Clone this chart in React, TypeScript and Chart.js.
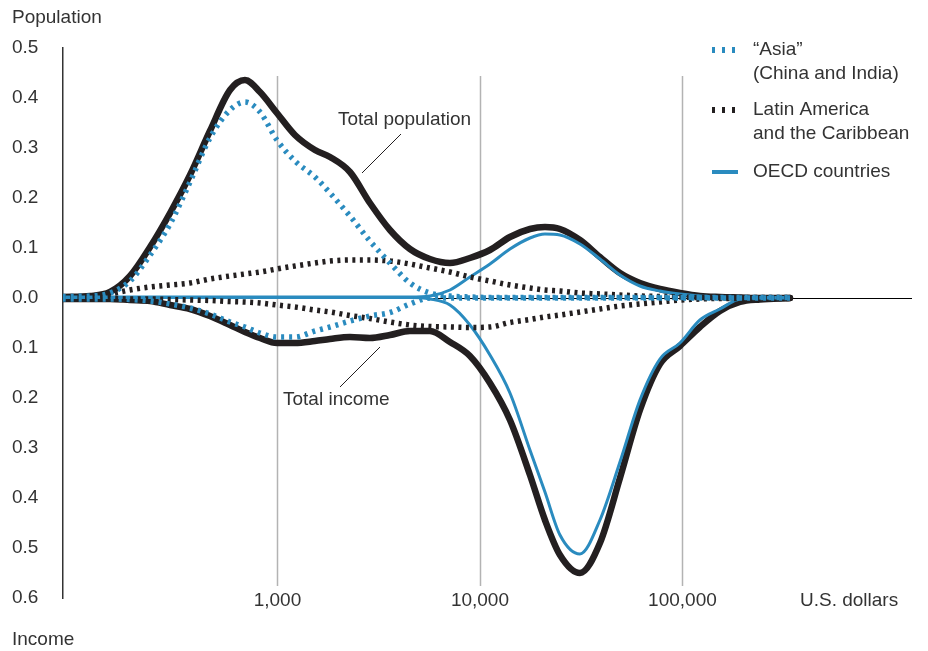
import React, { useEffect, useRef } from "react";
import { Chart, registerables } from "chart.js";

Chart.register(...registerables);

// Income levels (U.S. dollars, log scale)
const incomeUSD = [
  87, 119, 149, 187, 235, 295, 370, 464, 583, 691, 820, 994, 1220, 1532, 1817,
  2281, 2862, 3594, 4511, 5663, 7110, 8925, 11205, 14065, 17657, 20941, 24843,
  31180, 39140, 49130, 61680, 77430, 97200, 122000, 153200, 192300, 241400, 339500,
];

// Population densities (upper half)
const totalPopulation = [
  0.002, 0.004, 0.012, 0.044, 0.102, 0.17, 0.246, 0.334, 0.416, 0.436, 0.412, 0.37,
  0.326, 0.296, 0.282, 0.252, 0.19, 0.136, 0.098, 0.078, 0.07, 0.08, 0.096, 0.122,
  0.138, 0.142, 0.138, 0.116, 0.082, 0.05, 0.03, 0.018, 0.01, 0.004, 0.002, 0.001, 0, 0,
];
const asiaPopulation = [
  0.003, 0.004, 0.01, 0.034, 0.086, 0.148, 0.232, 0.32, 0.376, 0.392, 0.372, 0.316,
  0.274, 0.242, 0.21, 0.164, 0.114, 0.07, 0.03, 0.01, 0.004, 0.002, 0.001, 0.001,
  0.001, 0.001, 0.001, 0.001, 0.001, 0.001, 0.001, 0.001, 0.001, 0.001, 0.001, 0.001, 0.001, 0.001,
];
const latamPopulation = [
  0.001, 0.002, 0.008, 0.016, 0.022, 0.026, 0.03, 0.038, 0.044, 0.048, 0.052, 0.058,
  0.064, 0.07, 0.074, 0.076, 0.076, 0.074, 0.068, 0.06, 0.052, 0.042, 0.034, 0.026,
  0.02, 0.016, 0.014, 0.01, 0.008, 0.006, 0.004, 0.003, 0.002, 0.001, 0.001, 0.001, 0.001, 0.001,
];
const oecdPopulation = [
  0.002, 0.002, 0.002, 0.002, 0.002, 0.002, 0.002, 0.002, 0.002, 0.002, 0.002, 0.002,
  0.002, 0.002, 0.002, 0.002, 0.002, 0.002, 0.002, 0.004, 0.016, 0.042, 0.068, 0.098,
  0.12, 0.128, 0.126, 0.108, 0.078, 0.046, 0.024, 0.014, 0.008, 0.004, 0.002, 0.001, 0.001, 0.001,
];

// Income densities (lower half, plotted as negatives)
const totalIncome = [
  -0.002, -0.002, -0.002, -0.004, -0.006, -0.014, -0.022, -0.036, -0.054, -0.068, -0.08, -0.09,
  -0.09, -0.086, -0.082, -0.078, -0.08, -0.074, -0.066, -0.066, -0.088, -0.116, -0.17, -0.244,
  -0.354, -0.444, -0.514, -0.55, -0.49, -0.36, -0.224, -0.132, -0.096, -0.058, -0.026, -0.008, -0.003, 0,
];
const asiaIncome = [
  -0.002, -0.002, -0.002, -0.003, -0.006, -0.012, -0.02, -0.032, -0.048, -0.058, -0.07, -0.078,
  -0.078, -0.066, -0.058, -0.046, -0.036, -0.029, -0.012, 0, 0, 0, 0, 0,
  0, 0, 0, 0, 0, 0, 0, 0, 0, 0, 0, 0, 0, 0,
];
const latamIncome = [
  -0.001, -0.001, -0.001, -0.002, -0.002, -0.003, -0.004, -0.005, -0.007, -0.008, -0.01, -0.014,
  -0.018, -0.024, -0.028, -0.035, -0.041, -0.048, -0.054, -0.057, -0.058, -0.059, -0.058, -0.049,
  -0.043, -0.038, -0.034, -0.028, -0.022, -0.016, -0.012, -0.008, -0.004, -0.002, -0.001, -0.001, -0.001, -0.001,
];
const oecdIncome = [
  0.001, 0.001, 0.001, 0.001, 0.001, 0.001, 0.001, 0.001, 0.001, 0.001, 0.001, 0.001,
  0.001, 0.001, 0.001, 0.001, 0.001, 0.001, 0.001, -0.002, -0.014, -0.054, -0.114, -0.19,
  -0.304, -0.388, -0.474, -0.512, -0.444, -0.328, -0.204, -0.122, -0.09, -0.044, -0.022, -0.002, 0, 0,
];

const xTickValues = [1000, 10000, 100000];
const xTickLabels = ["1,000", "10,000", "100,000"];

const legendLabels = [
  ["\u201CAsia\u201D", "(China and India)"],
  ["Latin America", "and the Caribbean"],
  ["OECD countries"],
];

const BLUE = "#2a8bbf";
const BLACK = "#231f20";
const TEXT = "#333333";
const FONT = "'Liberation Sans', Arial, sans-serif";

const toPts = (vals: number[]) => vals.map((v, i) => ({ x: incomeUSD[i], y: v }));

const overlayPlugin = {
  id: "overlay",
  beforeDatasetsDraw(chart: any) {
    const { ctx, chartArea, scales } = chart;
    ctx.save();
    ctx.strokeStyle = "#b3b3b3";
    ctx.lineWidth = 1.5;
    xTickValues.forEach((v) => {
      const x = Math.round(scales.x.getPixelForValue(v)) + 0.5;
      ctx.beginPath();
      ctx.moveTo(x, chartArea.top + 28);
      ctx.lineTo(x, chartArea.bottom - 12);
      ctx.stroke();
    });
    ctx.restore();
  },
  afterDraw(chart: any) {
    const { ctx } = chart;
    ctx.save();
    ctx.fillStyle = TEXT;
    ctx.font = `19px ${FONT}`;
    ctx.textBaseline = "middle";
    ctx.textAlign = "left";
    // axis titles
    ctx.fillText("Population", 12, 18);
    ctx.fillText("Income", 12, 640);
    ctx.fillText("U.S. dollars", 800, 601);
    // annotations
    ctx.fillText("Total population", 338, 120);
    ctx.fillText("Total income", 283, 400);
    ctx.strokeStyle = BLACK;
    ctx.lineWidth = 1;
    ctx.beginPath();
    ctx.moveTo(362, 173);
    ctx.lineTo(401, 134);
    ctx.moveTo(340, 387);
    ctx.lineTo(380, 347);
    ctx.stroke();

    // legend
    const ds = chart.data.datasets;
    const entries = [
      { src: ds[6], y: 50 },
      { src: ds[4], y: 110 },
      { src: ds[2], y: 172 },
    ];
    entries.forEach((e, i) => {
      ctx.save();
      ctx.strokeStyle = e.src.borderColor;
      if (e.src.borderDash && e.src.borderDash.length) {
        ctx.setLineDash([3, 7]);
        ctx.lineWidth = 6;
      } else {
        ctx.lineWidth = 4;
      }
      ctx.beginPath();
      ctx.moveTo(712, e.y);
      ctx.lineTo(738, e.y);
      ctx.stroke();
      ctx.restore();
      legendLabels[i].forEach((line, j) => {
        ctx.fillText(line, 753, e.y + j * 23.5);
      });
    });
    ctx.restore();
  },
};

export default function App() {
  const canvasRef = useRef<HTMLCanvasElement | null>(null);

  useEffect(() => {
    if (!canvasRef.current) return;
    Chart.defaults.font.family = FONT;
    const solidThick = {
      borderColor: BLACK,
      borderWidth: 6.5,
      borderCapStyle: "round",
      borderJoinStyle: "round",
      order: 4,
    };
    const oecdStyle = { borderColor: BLUE, borderWidth: 3, order: 3 };
    const latamStyle = { borderColor: BLACK, borderWidth: 5.5, borderDash: [3, 4.5], order: 2 };
    const asiaStyle = { borderColor: BLUE, borderWidth: 5.5, borderDash: [3, 5], order: 1 };

    const chart = new Chart(canvasRef.current, {
      type: "line",
      data: {
        datasets: [
          { label: "Total population", data: toPts(totalPopulation), ...solidThick },
          { label: "Total income", data: toPts(totalIncome), ...solidThick },
          { label: "OECD countries", data: toPts(oecdPopulation), ...oecdStyle },
          { label: "OECD countries income", data: toPts(oecdIncome), ...oecdStyle },
          { label: "Latin America and the Caribbean", data: toPts(latamPopulation), ...latamStyle },
          { label: "Latin America income", data: toPts(latamIncome), ...latamStyle },
          { label: "Asia (China and India)", data: toPts(asiaPopulation), ...asiaStyle },
          { label: "Asia income", data: toPts(asiaIncome), ...asiaStyle },
        ] as any,
      },
      options: {
        animation: false,
        responsive: false,
        elements: {
          point: { radius: 0, hoverRadius: 0 },
          line: { cubicInterpolationMode: "monotone", fill: false },
        },
        layout: { padding: { left: 12, top: 48, right: 16, bottom: 53 } },
        plugins: { legend: { display: false }, tooltip: { enabled: false } },
        scales: {
          x: {
            type: "logarithmic",
            min: 87.3,
            max: 1360000,
            afterBuildTicks: (s: any) => {
              s.ticks = xTickValues.map((v) => ({ value: v }));
            },
            afterFit: (s: any) => {
              s.height = 0;
            },
            ticks: {
              autoSkip: false,
              maxRotation: 0,
              mirror: true,
              padding: -14,
              color: TEXT,
              font: { size: 19, family: FONT },
              callback: (v: any) => {
                const i = xTickValues.indexOf(Number(v));
                return i >= 0 ? xTickLabels[i] : "";
              },
            },
            grid: { display: false, drawTicks: false },
            border: { display: false },
          },
          y: {
            type: "linear",
            min: -0.6,
            max: 0.5,
            afterFit: (s: any) => {
              s.width = 51;
            },
            ticks: {
              stepSize: 0.1,
              crossAlign: "far",
              color: TEXT,
              font: { size: 19, family: FONT },
              callback: (v: any) => Math.abs(Number(v)).toFixed(1),
            },
            grid: {
              drawTicks: false,
              lineWidth: 1,
              color: (c: any) =>
                c.tick && Math.abs(c.tick.value) < 1e-9 ? "#000000" : "rgba(0,0,0,0)",
            },
            border: { display: true, color: "#333333", width: 1.5 },
          },
        },
      } as any,
      plugins: [overlayPlugin],
    });
    return () => chart.destroy();
  }, []);

  return (
    <div style={{ position: "fixed", left: 0, top: 0, width: 928, height: 651, background: "#fff" }}>
      <canvas ref={canvasRef} width={928} height={651} style={{ width: 928, height: 651 }} />
    </div>
  );
}
